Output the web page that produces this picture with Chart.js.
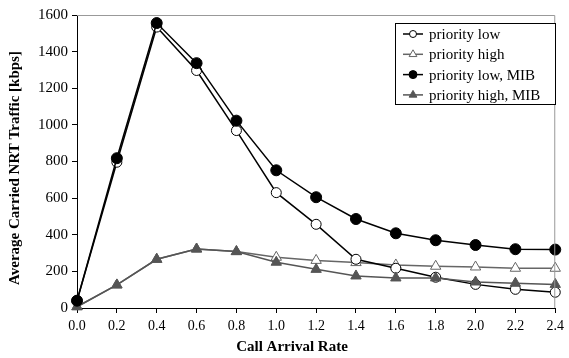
<!DOCTYPE html>
<html><head><meta charset="utf-8">
<script src="https://cdn.jsdelivr.net/npm/chart.js@4"></script>
<style>html,body{margin:0;padding:0;background:#fff}#wrap{width:569px;height:358px;position:relative}</style>
</head><body><div id="wrap"><canvas id="c" width="569" height="358"></canvas></div>
<script>
const rates = [0.0, 0.2, 0.4, 0.6, 0.8, 1.0, 1.2, 1.4, 1.6, 1.8, 2.0, 2.2, 2.4];
const priorityLow     = [40, 796, 1534, 1297, 969, 630, 457, 266, 217, 168, 129, 102, 86];
const priorityHigh    = [7, 126, 266, 322, 308, 277, 260, 248, 235, 228, 224, 217, 217];
const priorityLowMIB  = [40, 818, 1556, 1337, 1023, 752, 605, 486, 408, 370, 344, 321, 319];
const priorityHighMIB = [7, 126, 266, 322, 308, 250, 211, 175, 164, 164, 142, 135, 129];
const yTicks = [0, 200, 400, 600, 800, 1000, 1200, 1400, 1600];
const seriesNames = ['priority low', 'priority high', 'priority low, MIB', 'priority high, MIB'];
const xTitle = 'Call Arrival Rate';
const yTitle = 'Average Carried NRT Traffic [kbps]';

const FONT = "'Liberation Serif', 'Times New Roman', serif";
const pts = arr => arr.map((v, i) => ({x: rates[i], y: v}));

const datasets = [
  {label: seriesNames[0], data: pts(priorityLow), borderColor: '#000', backgroundColor: '#fff',
   pointBackgroundColor: '#fff', pointBorderColor: '#000', pointStyle: 'circle', pointRadius: 5, pointBorderWidth: 1, borderWidth: 1.5, order: 2},
  {label: seriesNames[1], data: pts(priorityHigh), borderColor: '#666', backgroundColor: '#fff',
   pointBackgroundColor: '#fff', pointBorderColor: '#666', pointStyle: 'triangle', pointRadius: 6, pointBorderWidth: 1, borderWidth: 1.5, order: 3},
  {label: seriesNames[2], data: pts(priorityLowMIB), borderColor: '#000', backgroundColor: '#000',
   pointBackgroundColor: '#000', pointBorderColor: '#000', pointStyle: 'circle', pointRadius: 5.5, pointBorderWidth: 1, borderWidth: 1.5, order: 0},
  {label: seriesNames[3], data: pts(priorityHighMIB), borderColor: '#555', backgroundColor: '#555',
   pointBackgroundColor: '#555', pointBorderColor: '#555', pointStyle: 'triangle', pointRadius: 6, pointBorderWidth: 1, borderWidth: 1.5, order: 1}
];

const decor = {
  id: 'decor',
  afterDraw(chart) {
    const ctx = chart.ctx, a = chart.chartArea;
    ctx.save();
    ctx.strokeStyle = '#999'; ctx.lineWidth = 1;
    ctx.beginPath();
    ctx.moveTo(a.left, a.top + 0.5); ctx.lineTo(a.right - 0.5, a.top + 0.5); ctx.lineTo(a.right - 0.5, a.bottom);
    ctx.stroke();
    ctx.fillStyle = '#000';
    ctx.font = 'bold 15px ' + FONT;
    ctx.textAlign = 'center'; ctx.textBaseline = 'middle';
    ctx.fillText(xTitle, 292, 347);
    ctx.translate(15, 168); ctx.rotate(-Math.PI / 2);
    ctx.fillText(yTitle, 0, 0);
    ctx.restore();

    ctx.save();
    ctx.fillStyle = '#fff';
    ctx.fillRect(395.5, 23.5, 160, 81);
    ctx.strokeStyle = '#000'; ctx.lineWidth = 1;
    ctx.strokeRect(395.5, 23.5, 160, 81);
    ctx.font = '15px ' + FONT;
    ctx.textAlign = 'left'; ctx.textBaseline = 'middle';
    chart.data.datasets.forEach((ds, i) => {
      const y = 34 + i * 20.3;
      ctx.strokeStyle = ds.borderColor; ctx.lineWidth = ds.borderWidth;
      ctx.beginPath(); ctx.moveTo(403, y); ctx.lineTo(423, y); ctx.stroke();
      ctx.fillStyle = ds.pointBackgroundColor; ctx.strokeStyle = ds.pointBorderColor; ctx.lineWidth = 1;
      Chart.helpers.drawPoint(ctx, {pointStyle: ds.pointStyle, radius: ds.pointRadius - 1.5, borderWidth: 1, rotation: 0}, 413, y);
      ctx.fillStyle = '#000';
      ctx.fillText(ds.label, 429, y + 1);
    });
    ctx.restore();
  }
};

new Chart(document.getElementById('c'), {
  type: 'line',
  data: {datasets},
  options: {
    responsive: false, animation: false, devicePixelRatio: 1,
    layout: {padding: {top: 15, right: 8, left: 0, bottom: 0}},
    plugins: {legend: {display: false}, tooltip: {enabled: false}},
    elements: {line: {tension: 0}},
    datasets: {line: {clip: false}},
    scales: {
      x: {
        type: 'linear', min: 0, max: 2.4,
        afterBuildTicks: s => { s.ticks = rates.map(v => ({value: v})); },
        afterFit: s => { s.height = 50; },
        ticks: {callback: v => Number(v).toFixed(1), font: {family: FONT, size: 14}, color: '#000', padding: 5, maxRotation: 0, autoSkip: false},
        grid: {display: true, drawOnChartArea: false, drawTicks: true, tickLength: 5, color: '#000'},
        border: {color: '#000', width: 1}
      },
      y: {
        type: 'linear', min: 0, max: 1600,
        afterBuildTicks: s => { s.ticks = yTicks.map(v => ({value: v})); },
        afterFit: s => { s.width = 77; },
        ticks: {callback: v => String(v), font: {family: FONT, size: 15}, color: '#000', padding: 4},
        grid: {display: true, drawOnChartArea: false, drawTicks: true, tickLength: 5, color: '#000'},
        border: {color: '#000', width: 1}
      }
    }
  },
  plugins: [decor]
});
</script></body></html>
